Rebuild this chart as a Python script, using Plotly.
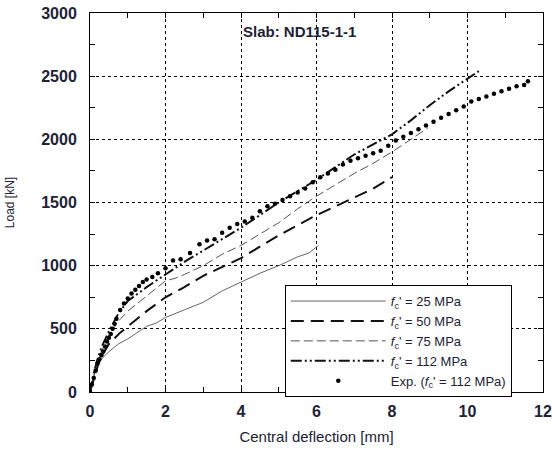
import plotly.graph_objects as go

# central deflection [mm] vs load [kN]
fc25_x = [0, 0.1, 0.2, 0.3, 0.5, 0.75, 1.0, 1.25, 1.5, 1.75, 2.0, 2.5, 3.0, 3.5, 4.0, 4.5, 5.0, 5.5, 5.8, 6.05]
fc25_y = [0, 120, 210, 260, 320, 380, 420, 470, 520, 545, 590, 650, 710, 800, 870, 940, 1000, 1070, 1100, 1160]

fc50_x = [0, 0.1, 0.2, 0.3, 0.5, 0.8, 1.0, 1.5, 2.0, 2.5, 3.0, 3.5, 4.0, 4.5, 5.0, 5.5, 6.0, 6.5, 7.0, 7.5, 8.0]
fc50_y = [0, 110, 200, 280, 380, 470, 520, 640, 750, 830, 920, 990, 1060, 1150, 1240, 1320, 1400, 1470, 1540, 1610, 1700]

fc75_x = [0, 0.1, 0.2, 0.3, 0.5, 0.75, 1.0, 1.25, 1.5, 1.75, 2.0, 2.25, 2.5, 3.0, 3.5, 4.0, 4.5, 5.0, 5.5, 6.0,
          6.5, 7.0, 7.5, 8.0, 8.5, 8.95]
fc75_y = [0, 130, 230, 320, 450, 560, 640, 700, 760, 820, 880, 900, 930, 1000, 1090, 1160, 1250, 1340, 1450, 1550,
          1640, 1730, 1810, 1900, 2000, 2090]

fc112_x = [0, 0.1, 0.2, 0.3, 0.5, 0.75, 1.0, 1.5, 2.0, 2.5, 3.0, 3.5, 4.0, 4.5, 5.0, 5.5, 6.0, 6.5, 7.0, 7.5,
           8.0, 8.5, 9.0, 9.5, 10.0, 10.3]
fc112_y = [0, 150, 260, 350, 480, 620, 720, 830, 930, 1030, 1120, 1210, 1300, 1400, 1500, 1590, 1680, 1780, 1880, 1960,
           2040, 2150, 2270, 2380, 2480, 2540]

exp_x = [0, 0.05, 0.1, 0.15, 0.2, 0.25, 0.3, 0.35, 0.4, 0.45, 0.5, 0.55, 0.6, 0.65, 0.7, 0.8, 0.9, 1.0, 1.1, 1.2,
         1.3, 1.4, 1.5, 1.65, 1.8, 2.0, 2.2, 2.4, 2.65, 2.9, 3.1, 3.3, 3.5, 3.7, 3.9, 4.1, 4.3, 4.5, 4.7, 4.9,
         5.1, 5.3, 5.5, 5.7, 5.9, 6.1, 6.3, 6.5, 6.7, 6.9, 7.1, 7.3, 7.5, 7.7, 7.9, 8.1, 8.3, 8.5, 8.7, 8.9,
         9.1, 9.3, 9.5, 9.7, 9.9, 10.1, 10.3, 10.5, 10.7, 10.9, 11.1, 11.3, 11.5, 11.6]
exp_y = [0, 60, 110, 170, 230, 260, 290, 320, 360, 400, 430, 460, 500, 540, 580, 650, 700, 740, 780, 810,
         840, 870, 890, 910, 940, 980, 1040, 1050, 1100, 1170, 1200, 1210, 1260, 1300, 1330, 1350, 1380, 1430, 1470, 1490,
         1520, 1550, 1580, 1610, 1660, 1700, 1730, 1760, 1800, 1830, 1850, 1870, 1890, 1910, 1950, 1990, 2020, 2050, 2080, 2110,
         2140, 2170, 2200, 2230, 2260, 2300, 2320, 2340, 2360, 2380, 2400, 2420, 2430, 2460]

names = ["<i>f</i><sub>c</sub>' = 25 MPa", "<i>f</i><sub>c</sub>' = 50 MPa", "<i>f</i><sub>c</sub>' = 75 MPa",
         "<i>f</i><sub>c</sub>' = 112 MPa", "Exp. (<i>f</i><sub>c</sub>' = 112 MPa)"]

TEXT = "#1e2236"
FONT = "Liberation Sans, Arial"

fig = go.Figure()
fig.add_trace(go.Scatter(x=fc25_x, y=fc25_y, mode="lines", name=names[0],
                         line=dict(color="#666666", width=1)))
fig.add_trace(go.Scatter(x=fc50_x, y=fc50_y, mode="lines", name=names[1],
                         line=dict(color="#111111", width=2, dash="13px,7px")))
fig.add_trace(go.Scatter(x=fc75_x, y=fc75_y, mode="lines", name=names[2],
                         line=dict(color="#555555", width=1, dash="9px,4px")))
fig.add_trace(go.Scatter(x=fc112_x, y=fc112_y, mode="lines", name=names[3],
                         line=dict(color="#111111", width=2, dash="11px,3px,2px,3px,2px,3px")))
fig.add_trace(go.Scatter(x=exp_x, y=exp_y, mode="markers", name=names[4],
                         marker=dict(color="#000000", size=4.5)))

fig.add_annotation(x=5.55, y=2850, text="<b>Slab: ND115-1-1</b>", showarrow=False,
                   font=dict(family=FONT, size=15, color=TEXT))

axis_common = dict(
    showline=True, linecolor="black", linewidth=1, mirror="ticks",
    ticks="inside", ticklen=5, tickcolor="black",
    showgrid=True, gridcolor="black", griddash="dot", gridwidth=1,
    zeroline=False, automargin=False, ticklabeloverflow="allow",
    tickfont=dict(family=FONT, size=16, color=TEXT, weight="bold"),
)

fig.update_xaxes(range=[0, 12], dtick=2, ticklabelstandoff=5,
                 title=dict(text="Central deflection [mm]",
                            font=dict(family=FONT, size=15, color=TEXT), standoff=12),
                 minor=dict(dtick=1, ticks="inside", ticklen=5, tickcolor="black", showgrid=False),
                 **axis_common)
fig.update_yaxes(range=[0, 3000], dtick=500, ticklabelstandoff=9,
                 title=dict(text="Load [kN]",
                            font=dict(family=FONT, size=12, color=TEXT), standoff=24),
                 minor=dict(dtick=250, ticks="inside", ticklen=5, tickcolor="black", showgrid=False),
                 **axis_common)

fig.update_layout(
    width=553, height=450,
    margin=dict(l=90, r=10, t=13, b=58),
    plot_bgcolor="white", paper_bgcolor="white",
    font=dict(family=FONT, color=TEXT),
    legend=dict(x=0.43, y=0.282, xanchor="left", yanchor="top",
                bordercolor="black", borderwidth=1, bgcolor="white",
                font=dict(size=13), tracegroupgap=0, itemwidth=95),
)

# drop the default 8px body margin so the figure fills the window
fig.write_html("out.html", config={"displayModeBar": False},
               post_script="document.body.style.margin='0px';")
